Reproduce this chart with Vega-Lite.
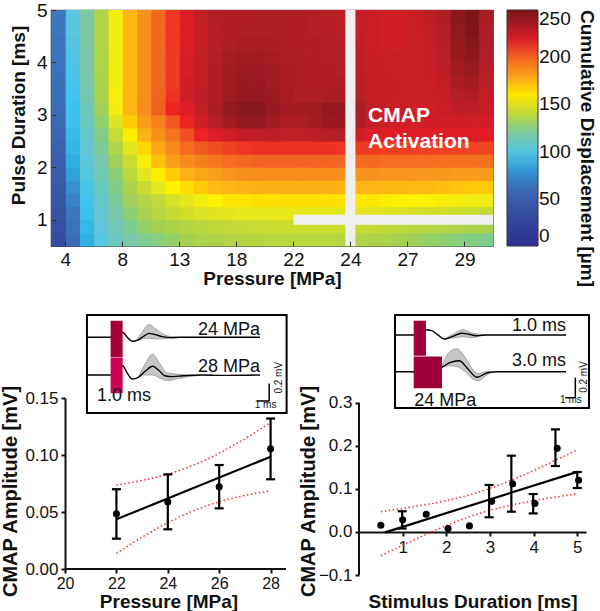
{
"$schema": "https://vega.github.io/schema/vega-lite/v6.json",
"padding": {"left": 0, "top": 0, "right": 2, "bottom": 2},
"config": {
 "font": "Liberation Sans",
 "view": {"stroke": null},
 "axis": {"grid": false, "labelColor": "#111", "titleColor": "#111", "domainColor": "#111", "tickColor": "#111", "titleFontWeight": "bold", "labelFont": "Liberation Sans", "titleFont": "Liberation Sans"},
 "legend": {"labelColor": "#111", "titleColor": "#111"}
},
"datasets": {
 "heat": [
{"p":-0.125,"d":0.625,"v":35},{"p":0.125,"d":0.625,"v":61},{"p":0.375,"d":0.625,"v":88},{"p":0.625,"d":0.625,"v":101},{"p":0.875,"d":0.625,"v":112},{"p":1.125,"d":0.625,"v":117},{"p":1.375,"d":0.625,"v":122},{"p":1.625,"d":0.625,"v":126},{"p":1.875,"d":0.625,"v":129},{"p":2.125,"d":0.625,"v":132},{"p":2.375,"d":0.625,"v":134},{"p":2.625,"d":0.625,"v":135},{"p":2.875,"d":0.625,"v":136},{"p":3.125,"d":0.625,"v":137},{"p":3.375,"d":0.625,"v":137},{"p":3.625,"d":0.625,"v":138},{"p":3.875,"d":0.625,"v":138},{"p":4.125,"d":0.625,"v":138},{"p":4.375,"d":0.625,"v":138},{"p":4.625,"d":0.625,"v":138},{"p":4.875,"d":0.625,"v":137},{"p":5.125,"d":0.625,"v":136},{"p":5.375,"d":0.625,"v":135},{"p":5.625,"d":0.625,"v":134},{"p":5.875,"d":0.625,"v":132},{"p":6.125,"d":0.625,"v":131},{"p":6.375,"d":0.625,"v":129},{"p":6.625,"d":0.625,"v":128},{"p":6.875,"d":0.625,"v":126},{"p":7.125,"d":0.625,"v":125},{"p":7.375,"d":0.625,"v":123},
{"p":-0.125,"d":0.875,"v":39},{"p":0.125,"d":0.875,"v":66},{"p":0.375,"d":0.875,"v":91},{"p":0.625,"d":0.875,"v":104},{"p":0.875,"d":0.875,"v":114},{"p":1.125,"d":0.875,"v":122},{"p":1.375,"d":0.875,"v":129},{"p":1.625,"d":0.875,"v":132},{"p":1.875,"d":0.875,"v":134},{"p":2.125,"d":0.875,"v":136},{"p":2.375,"d":0.875,"v":138},{"p":2.625,"d":0.875,"v":140},{"p":2.875,"d":0.875,"v":141},{"p":3.125,"d":0.875,"v":142},{"p":3.375,"d":0.875,"v":143},{"p":3.625,"d":0.875,"v":144},{"p":3.875,"d":0.875,"v":144},{"p":4.125,"d":0.875,"v":144},{"p":4.375,"d":0.875,"v":144},{"p":4.625,"d":0.875,"v":144},{"p":4.875,"d":0.875,"v":143},{"p":5.125,"d":0.875,"v":142},{"p":5.375,"d":0.875,"v":141},{"p":5.625,"d":0.875,"v":140},{"p":5.875,"d":0.875,"v":139},{"p":6.125,"d":0.875,"v":138},{"p":6.375,"d":0.875,"v":137},{"p":6.625,"d":0.875,"v":136},{"p":6.875,"d":0.875,"v":135},{"p":7.125,"d":0.875,"v":134},{"p":7.375,"d":0.875,"v":133},
{"p":-0.125,"d":1.125,"v":41},{"p":0.125,"d":1.125,"v":70},{"p":0.375,"d":1.125,"v":94},{"p":0.625,"d":1.125,"v":106},{"p":0.875,"d":1.125,"v":117},{"p":1.125,"d":1.125,"v":127},{"p":1.375,"d":1.125,"v":133},{"p":1.625,"d":1.125,"v":137},{"p":1.875,"d":1.125,"v":142},{"p":2.125,"d":1.125,"v":146},{"p":2.375,"d":1.125,"v":148},{"p":2.625,"d":1.125,"v":150},{"p":2.875,"d":1.125,"v":151},{"p":3.125,"d":1.125,"v":152},{"p":3.375,"d":1.125,"v":152},{"p":3.625,"d":1.125,"v":152},{"p":3.875,"d":1.125,"v":152},{"p":4.125,"d":1.125,"v":152},{"p":4.375,"d":1.125,"v":152},{"p":4.625,"d":1.125,"v":152},{"p":4.875,"d":1.125,"v":151},{"p":5.125,"d":1.125,"v":150},{"p":5.375,"d":1.125,"v":150},{"p":5.625,"d":1.125,"v":149},{"p":5.875,"d":1.125,"v":148},{"p":6.125,"d":1.125,"v":147},{"p":6.375,"d":1.125,"v":146},{"p":6.625,"d":1.125,"v":145},{"p":6.875,"d":1.125,"v":144},{"p":7.125,"d":1.125,"v":143},{"p":7.375,"d":1.125,"v":142},
{"p":-0.125,"d":1.375,"v":44},{"p":0.125,"d":1.375,"v":74},{"p":0.375,"d":1.375,"v":96},{"p":0.625,"d":1.375,"v":109},{"p":0.875,"d":1.375,"v":120},{"p":1.125,"d":1.375,"v":131},{"p":1.375,"d":1.375,"v":136},{"p":1.625,"d":1.375,"v":141},{"p":1.875,"d":1.375,"v":147},{"p":2.125,"d":1.375,"v":151},{"p":2.375,"d":1.375,"v":155},{"p":2.625,"d":1.375,"v":158},{"p":2.875,"d":1.375,"v":160},{"p":3.125,"d":1.375,"v":161},{"p":3.375,"d":1.375,"v":162},{"p":3.625,"d":1.375,"v":162},{"p":3.875,"d":1.375,"v":162},{"p":4.125,"d":1.375,"v":162},{"p":4.375,"d":1.375,"v":162},{"p":4.625,"d":1.375,"v":162},{"p":4.875,"d":1.375,"v":161},{"p":5.125,"d":1.375,"v":160},{"p":5.375,"d":1.375,"v":160},{"p":5.625,"d":1.375,"v":159},{"p":5.875,"d":1.375,"v":158},{"p":6.125,"d":1.375,"v":158},{"p":6.375,"d":1.375,"v":157},{"p":6.625,"d":1.375,"v":156},{"p":6.875,"d":1.375,"v":155},{"p":7.125,"d":1.375,"v":154},{"p":7.375,"d":1.375,"v":154},
{"p":-0.125,"d":1.625,"v":47},{"p":0.125,"d":1.625,"v":78},{"p":0.375,"d":1.625,"v":98},{"p":0.625,"d":1.625,"v":111},{"p":0.875,"d":1.625,"v":124},{"p":1.125,"d":1.625,"v":134},{"p":1.375,"d":1.625,"v":143},{"p":1.625,"d":1.625,"v":152},{"p":1.875,"d":1.625,"v":158},{"p":2.125,"d":1.625,"v":162},{"p":2.375,"d":1.625,"v":167},{"p":2.625,"d":1.625,"v":170},{"p":2.875,"d":1.625,"v":172},{"p":3.125,"d":1.625,"v":173},{"p":3.375,"d":1.625,"v":174},{"p":3.625,"d":1.625,"v":174},{"p":3.875,"d":1.625,"v":174},{"p":4.125,"d":1.625,"v":174},{"p":4.375,"d":1.625,"v":174},{"p":4.625,"d":1.625,"v":174},{"p":4.875,"d":1.625,"v":173},{"p":5.125,"d":1.625,"v":172},{"p":5.375,"d":1.625,"v":172},{"p":5.625,"d":1.625,"v":171},{"p":5.875,"d":1.625,"v":171},{"p":6.125,"d":1.625,"v":170},{"p":6.375,"d":1.625,"v":170},{"p":6.625,"d":1.625,"v":169},{"p":6.875,"d":1.625,"v":168},{"p":7.125,"d":1.625,"v":167},{"p":7.375,"d":1.625,"v":167},
{"p":-0.125,"d":1.875,"v":50},{"p":0.125,"d":1.875,"v":83},{"p":0.375,"d":1.875,"v":101},{"p":0.625,"d":1.875,"v":114},{"p":0.875,"d":1.875,"v":127},{"p":1.125,"d":1.875,"v":139},{"p":1.375,"d":1.875,"v":150},{"p":1.625,"d":1.875,"v":159},{"p":1.875,"d":1.875,"v":166},{"p":2.125,"d":1.875,"v":173},{"p":2.375,"d":1.875,"v":178},{"p":2.625,"d":1.875,"v":181},{"p":2.875,"d":1.875,"v":184},{"p":3.125,"d":1.875,"v":186},{"p":3.375,"d":1.875,"v":187},{"p":3.625,"d":1.875,"v":187},{"p":3.875,"d":1.875,"v":187},{"p":4.125,"d":1.875,"v":187},{"p":4.375,"d":1.875,"v":187},{"p":4.625,"d":1.875,"v":187},{"p":4.875,"d":1.875,"v":186},{"p":5.125,"d":1.875,"v":185},{"p":5.375,"d":1.875,"v":185},{"p":5.625,"d":1.875,"v":184},{"p":5.875,"d":1.875,"v":184},{"p":6.125,"d":1.875,"v":184},{"p":6.375,"d":1.875,"v":183},{"p":6.625,"d":1.875,"v":183},{"p":6.875,"d":1.875,"v":182},{"p":7.125,"d":1.875,"v":182},{"p":7.375,"d":1.875,"v":182},
{"p":-0.125,"d":2.125,"v":52},{"p":0.125,"d":2.125,"v":87},{"p":0.375,"d":2.125,"v":103},{"p":0.625,"d":2.125,"v":117},{"p":0.875,"d":2.125,"v":131},{"p":1.125,"d":2.125,"v":144},{"p":1.375,"d":2.125,"v":156},{"p":1.625,"d":2.125,"v":169},{"p":1.875,"d":2.125,"v":181},{"p":2.125,"d":2.125,"v":188},{"p":2.375,"d":2.125,"v":192},{"p":2.625,"d":2.125,"v":195},{"p":2.875,"d":2.125,"v":197},{"p":3.125,"d":2.125,"v":199},{"p":3.375,"d":2.125,"v":200},{"p":3.625,"d":2.125,"v":200},{"p":3.875,"d":2.125,"v":200},{"p":4.125,"d":2.125,"v":200},{"p":4.375,"d":2.125,"v":200},{"p":4.625,"d":2.125,"v":200},{"p":4.875,"d":2.125,"v":199},{"p":5.125,"d":2.125,"v":198},{"p":5.375,"d":2.125,"v":198},{"p":5.625,"d":2.125,"v":197},{"p":5.875,"d":2.125,"v":197},{"p":6.125,"d":2.125,"v":197},{"p":6.375,"d":2.125,"v":197},{"p":6.625,"d":2.125,"v":196},{"p":6.875,"d":2.125,"v":196},{"p":7.125,"d":2.125,"v":196},{"p":7.375,"d":2.125,"v":196},
{"p":-0.125,"d":2.375,"v":54},{"p":0.125,"d":2.375,"v":90},{"p":0.375,"d":2.375,"v":105},{"p":0.625,"d":2.375,"v":121},{"p":0.875,"d":2.375,"v":136},{"p":1.125,"d":2.375,"v":151},{"p":1.375,"d":2.375,"v":164},{"p":1.625,"d":2.375,"v":177},{"p":1.875,"d":2.375,"v":188},{"p":2.125,"d":2.375,"v":197},{"p":2.375,"d":2.375,"v":202},{"p":2.625,"d":2.375,"v":206},{"p":2.875,"d":2.375,"v":209},{"p":3.125,"d":2.375,"v":211},{"p":3.375,"d":2.375,"v":212},{"p":3.625,"d":2.375,"v":212},{"p":3.875,"d":2.375,"v":212},{"p":4.125,"d":2.375,"v":212},{"p":4.375,"d":2.375,"v":212},{"p":4.625,"d":2.375,"v":212},{"p":4.875,"d":2.375,"v":211},{"p":5.125,"d":2.375,"v":210},{"p":5.375,"d":2.375,"v":210},{"p":5.625,"d":2.375,"v":209},{"p":5.875,"d":2.375,"v":209},{"p":6.125,"d":2.375,"v":209},{"p":6.375,"d":2.375,"v":209},{"p":6.625,"d":2.375,"v":209},{"p":6.875,"d":2.375,"v":208},{"p":7.125,"d":2.375,"v":208},{"p":7.375,"d":2.375,"v":208},
{"p":-0.125,"d":2.625,"v":57},{"p":0.125,"d":2.625,"v":92},{"p":0.375,"d":2.625,"v":108},{"p":0.625,"d":2.625,"v":124},{"p":0.875,"d":2.625,"v":142},{"p":1.125,"d":2.625,"v":159},{"p":1.375,"d":2.625,"v":173},{"p":1.625,"d":2.625,"v":186},{"p":1.875,"d":2.625,"v":195},{"p":2.125,"d":2.625,"v":205},{"p":2.375,"d":2.625,"v":214},{"p":2.625,"d":2.625,"v":219},{"p":2.875,"d":2.625,"v":222},{"p":3.125,"d":2.625,"v":225},{"p":3.375,"d":2.625,"v":226},{"p":3.625,"d":2.625,"v":226},{"p":3.875,"d":2.625,"v":225},{"p":4.125,"d":2.625,"v":225},{"p":4.375,"d":2.625,"v":226},{"p":4.625,"d":2.625,"v":228},{"p":4.875,"d":2.625,"v":228},{"p":5.125,"d":2.625,"v":222},{"p":5.375,"d":2.625,"v":219},{"p":5.625,"d":2.625,"v":218},{"p":5.875,"d":2.625,"v":218},{"p":6.125,"d":2.625,"v":218},{"p":6.375,"d":2.625,"v":218},{"p":6.625,"d":2.625,"v":218},{"p":6.875,"d":2.625,"v":218},{"p":7.125,"d":2.625,"v":218},{"p":7.375,"d":2.625,"v":217},
{"p":-0.125,"d":2.875,"v":60},{"p":0.125,"d":2.875,"v":94},{"p":0.375,"d":2.875,"v":112},{"p":0.625,"d":2.875,"v":128},{"p":0.875,"d":2.875,"v":149},{"p":1.125,"d":2.875,"v":166},{"p":1.375,"d":2.875,"v":181},{"p":1.625,"d":2.875,"v":192},{"p":1.875,"d":2.875,"v":203},{"p":2.125,"d":2.875,"v":214},{"p":2.375,"d":2.875,"v":222},{"p":2.625,"d":2.875,"v":228},{"p":2.875,"d":2.875,"v":234},{"p":3.125,"d":2.875,"v":240},{"p":3.375,"d":2.875,"v":240},{"p":3.625,"d":2.875,"v":235},{"p":3.875,"d":2.875,"v":231},{"p":4.125,"d":2.875,"v":231},{"p":4.375,"d":2.875,"v":234},{"p":4.625,"d":2.875,"v":238},{"p":4.875,"d":2.875,"v":238},{"p":5.125,"d":2.875,"v":230},{"p":5.375,"d":2.875,"v":224},{"p":5.625,"d":2.875,"v":222},{"p":5.875,"d":2.875,"v":221},{"p":6.125,"d":2.875,"v":221},{"p":6.375,"d":2.875,"v":221},{"p":6.625,"d":2.875,"v":222},{"p":6.875,"d":2.875,"v":222},{"p":7.125,"d":2.875,"v":222},{"p":7.375,"d":2.875,"v":221},
{"p":-0.125,"d":3.125,"v":62},{"p":0.125,"d":3.125,"v":94},{"p":0.375,"d":3.125,"v":113},{"p":0.625,"d":3.125,"v":131},{"p":0.875,"d":3.125,"v":155},{"p":1.125,"d":3.125,"v":172},{"p":1.375,"d":3.125,"v":187},{"p":1.625,"d":3.125,"v":201},{"p":1.875,"d":3.125,"v":214},{"p":2.125,"d":3.125,"v":218},{"p":2.375,"d":3.125,"v":225},{"p":2.625,"d":3.125,"v":232},{"p":2.875,"d":3.125,"v":240},{"p":3.125,"d":3.125,"v":245},{"p":3.375,"d":3.125,"v":244},{"p":3.625,"d":3.125,"v":238},{"p":3.875,"d":3.125,"v":234},{"p":4.125,"d":3.125,"v":234},{"p":4.375,"d":3.125,"v":236},{"p":4.625,"d":3.125,"v":240},{"p":4.875,"d":3.125,"v":240},{"p":5.125,"d":3.125,"v":232},{"p":5.375,"d":3.125,"v":226},{"p":5.625,"d":3.125,"v":224},{"p":5.875,"d":3.125,"v":223},{"p":6.125,"d":3.125,"v":222},{"p":6.375,"d":3.125,"v":222},{"p":6.625,"d":3.125,"v":223},{"p":6.875,"d":3.125,"v":226},{"p":7.125,"d":3.125,"v":226},{"p":7.375,"d":3.125,"v":224},
{"p":-0.125,"d":3.375,"v":64},{"p":0.125,"d":3.375,"v":96},{"p":0.375,"d":3.375,"v":115},{"p":0.625,"d":3.375,"v":133},{"p":0.875,"d":3.375,"v":156},{"p":1.125,"d":3.375,"v":172},{"p":1.375,"d":3.375,"v":186},{"p":1.625,"d":3.375,"v":200},{"p":1.875,"d":3.375,"v":212},{"p":2.125,"d":3.375,"v":222},{"p":2.375,"d":3.375,"v":226},{"p":2.625,"d":3.375,"v":230},{"p":2.875,"d":3.375,"v":236},{"p":3.125,"d":3.375,"v":240},{"p":3.375,"d":3.375,"v":240},{"p":3.625,"d":3.375,"v":237},{"p":3.875,"d":3.375,"v":233},{"p":4.125,"d":3.375,"v":231},{"p":4.375,"d":3.375,"v":231},{"p":4.625,"d":3.375,"v":232},{"p":4.875,"d":3.375,"v":232},{"p":5.125,"d":3.375,"v":228},{"p":5.375,"d":3.375,"v":225},{"p":5.625,"d":3.375,"v":224},{"p":5.875,"d":3.375,"v":223},{"p":6.125,"d":3.375,"v":223},{"p":6.375,"d":3.375,"v":223},{"p":6.625,"d":3.375,"v":224},{"p":6.875,"d":3.375,"v":229},{"p":7.125,"d":3.375,"v":230},{"p":7.375,"d":3.375,"v":225},
{"p":-0.125,"d":3.625,"v":65},{"p":0.125,"d":3.625,"v":97},{"p":0.375,"d":3.625,"v":116},{"p":0.625,"d":3.625,"v":134},{"p":0.875,"d":3.625,"v":155},{"p":1.125,"d":3.625,"v":171},{"p":1.375,"d":3.625,"v":186},{"p":1.625,"d":3.625,"v":199},{"p":1.875,"d":3.625,"v":210},{"p":2.125,"d":3.625,"v":221},{"p":2.375,"d":3.625,"v":225},{"p":2.625,"d":3.625,"v":230},{"p":2.875,"d":3.625,"v":235},{"p":3.125,"d":3.625,"v":238},{"p":3.375,"d":3.625,"v":238},{"p":3.625,"d":3.625,"v":235},{"p":3.875,"d":3.625,"v":232},{"p":4.125,"d":3.625,"v":231},{"p":4.375,"d":3.625,"v":230},{"p":4.625,"d":3.625,"v":230},{"p":4.875,"d":3.625,"v":230},{"p":5.125,"d":3.625,"v":227},{"p":5.375,"d":3.625,"v":225},{"p":5.625,"d":3.625,"v":224},{"p":5.875,"d":3.625,"v":223},{"p":6.125,"d":3.625,"v":223},{"p":6.375,"d":3.625,"v":223},{"p":6.625,"d":3.625,"v":225},{"p":6.875,"d":3.625,"v":232},{"p":7.125,"d":3.625,"v":234},{"p":7.375,"d":3.625,"v":227},
{"p":-0.125,"d":3.875,"v":66},{"p":0.125,"d":3.875,"v":98},{"p":0.375,"d":3.875,"v":117},{"p":0.625,"d":3.875,"v":135},{"p":0.875,"d":3.875,"v":155},{"p":1.125,"d":3.875,"v":171},{"p":1.375,"d":3.875,"v":186},{"p":1.625,"d":3.875,"v":199},{"p":1.875,"d":3.875,"v":210},{"p":2.125,"d":3.875,"v":220},{"p":2.375,"d":3.875,"v":225},{"p":2.625,"d":3.875,"v":230},{"p":2.875,"d":3.875,"v":235},{"p":3.125,"d":3.875,"v":237},{"p":3.375,"d":3.875,"v":237},{"p":3.625,"d":3.875,"v":234},{"p":3.875,"d":3.875,"v":232},{"p":4.125,"d":3.875,"v":231},{"p":4.375,"d":3.875,"v":230},{"p":4.625,"d":3.875,"v":230},{"p":4.875,"d":3.875,"v":229},{"p":5.125,"d":3.875,"v":226},{"p":5.375,"d":3.875,"v":224},{"p":5.625,"d":3.875,"v":223},{"p":5.875,"d":3.875,"v":223},{"p":6.125,"d":3.875,"v":223},{"p":6.375,"d":3.875,"v":224},{"p":6.625,"d":3.875,"v":226},{"p":6.875,"d":3.875,"v":235},{"p":7.125,"d":3.875,"v":238},{"p":7.375,"d":3.875,"v":228},
{"p":-0.125,"d":4.125,"v":67},{"p":0.125,"d":4.125,"v":99},{"p":0.375,"d":4.125,"v":117},{"p":0.625,"d":4.125,"v":135},{"p":0.875,"d":4.125,"v":155},{"p":1.125,"d":4.125,"v":171},{"p":1.375,"d":4.125,"v":186},{"p":1.625,"d":4.125,"v":199},{"p":1.875,"d":4.125,"v":210},{"p":2.125,"d":4.125,"v":220},{"p":2.375,"d":4.125,"v":225},{"p":2.625,"d":4.125,"v":229},{"p":2.875,"d":4.125,"v":233},{"p":3.125,"d":4.125,"v":235},{"p":3.375,"d":4.125,"v":235},{"p":3.625,"d":4.125,"v":233},{"p":3.875,"d":4.125,"v":231},{"p":4.125,"d":4.125,"v":231},{"p":4.375,"d":4.125,"v":230},{"p":4.625,"d":4.125,"v":229},{"p":4.875,"d":4.125,"v":228},{"p":5.125,"d":4.125,"v":226},{"p":5.375,"d":4.125,"v":224},{"p":5.625,"d":4.125,"v":223},{"p":5.875,"d":4.125,"v":223},{"p":6.125,"d":4.125,"v":223},{"p":6.375,"d":4.125,"v":224},{"p":6.625,"d":4.125,"v":227},{"p":6.875,"d":4.125,"v":238},{"p":7.125,"d":4.125,"v":242},{"p":7.375,"d":4.125,"v":229},
{"p":-0.125,"d":4.375,"v":68},{"p":0.125,"d":4.375,"v":100},{"p":0.375,"d":4.375,"v":118},{"p":0.625,"d":4.375,"v":136},{"p":0.875,"d":4.375,"v":155},{"p":1.125,"d":4.375,"v":171},{"p":1.375,"d":4.375,"v":186},{"p":1.625,"d":4.375,"v":199},{"p":1.875,"d":4.375,"v":211},{"p":2.125,"d":4.375,"v":219},{"p":2.375,"d":4.375,"v":224},{"p":2.625,"d":4.375,"v":228},{"p":2.875,"d":4.375,"v":231},{"p":3.125,"d":4.375,"v":232},{"p":3.375,"d":4.375,"v":233},{"p":3.625,"d":4.375,"v":232},{"p":3.875,"d":4.375,"v":231},{"p":4.125,"d":4.375,"v":230},{"p":4.375,"d":4.375,"v":230},{"p":4.625,"d":4.375,"v":229},{"p":4.875,"d":4.375,"v":228},{"p":5.125,"d":4.375,"v":225},{"p":5.375,"d":4.375,"v":223},{"p":5.625,"d":4.375,"v":222},{"p":5.875,"d":4.375,"v":222},{"p":6.125,"d":4.375,"v":223},{"p":6.375,"d":4.375,"v":224},{"p":6.625,"d":4.375,"v":228},{"p":6.875,"d":4.375,"v":240},{"p":7.125,"d":4.375,"v":245},{"p":7.375,"d":4.375,"v":230},
{"p":-0.125,"d":4.625,"v":69},{"p":0.125,"d":4.625,"v":101},{"p":0.375,"d":4.625,"v":118},{"p":0.625,"d":4.625,"v":136},{"p":0.875,"d":4.625,"v":155},{"p":1.125,"d":4.625,"v":171},{"p":1.375,"d":4.625,"v":186},{"p":1.625,"d":4.625,"v":199},{"p":1.875,"d":4.625,"v":211},{"p":2.125,"d":4.625,"v":219},{"p":2.375,"d":4.625,"v":224},{"p":2.625,"d":4.625,"v":228},{"p":2.875,"d":4.625,"v":230},{"p":3.125,"d":4.625,"v":231},{"p":3.375,"d":4.625,"v":231},{"p":3.625,"d":4.625,"v":231},{"p":3.875,"d":4.625,"v":231},{"p":4.125,"d":4.625,"v":230},{"p":4.375,"d":4.625,"v":229},{"p":4.625,"d":4.625,"v":228},{"p":4.875,"d":4.625,"v":227},{"p":5.125,"d":4.625,"v":224},{"p":5.375,"d":4.625,"v":223},{"p":5.625,"d":4.625,"v":222},{"p":5.875,"d":4.625,"v":222},{"p":6.125,"d":4.625,"v":223},{"p":6.375,"d":4.625,"v":225},{"p":6.625,"d":4.625,"v":229},{"p":6.875,"d":4.625,"v":242},{"p":7.125,"d":4.625,"v":247},{"p":7.375,"d":4.625,"v":231},
{"p":-0.125,"d":4.875,"v":69},{"p":0.125,"d":4.875,"v":101},{"p":0.375,"d":4.875,"v":118},{"p":0.625,"d":4.875,"v":136},{"p":0.875,"d":4.875,"v":155},{"p":1.125,"d":4.875,"v":171},{"p":1.375,"d":4.875,"v":186},{"p":1.625,"d":4.875,"v":199},{"p":1.875,"d":4.875,"v":211},{"p":2.125,"d":4.875,"v":219},{"p":2.375,"d":4.875,"v":225},{"p":2.625,"d":4.875,"v":229},{"p":2.875,"d":4.875,"v":230},{"p":3.125,"d":4.875,"v":230},{"p":3.375,"d":4.875,"v":231},{"p":3.625,"d":4.875,"v":231},{"p":3.875,"d":4.875,"v":231},{"p":4.125,"d":4.875,"v":230},{"p":4.375,"d":4.875,"v":229},{"p":4.625,"d":4.875,"v":228},{"p":4.875,"d":4.875,"v":226},{"p":5.125,"d":4.875,"v":224},{"p":5.375,"d":4.875,"v":223},{"p":5.625,"d":4.875,"v":222},{"p":5.875,"d":4.875,"v":222},{"p":6.125,"d":4.875,"v":223},{"p":6.375,"d":4.875,"v":226},{"p":6.625,"d":4.875,"v":230},{"p":6.875,"d":4.875,"v":243},{"p":7.125,"d":4.875,"v":248},{"p":7.375,"d":4.875,"v":232}
 ],
 "ciL": [
  {"x":22,"y":0.0736,"side":"upper"},{"x":23,"y":0.0777,"side":"upper"},{"x":24,"y":0.0832,"side":"upper"},{"x":25,"y":0.0911,"side":"upper"},{"x":26,"y":0.1015,"side":"upper"},{"x":27,"y":0.1143,"side":"upper"},{"x":28,"y":0.1285,"side":"upper"},
  {"x":22,"y":0.0136,"side":"lower"},{"x":23,"y":0.0279,"side":"lower"},{"x":24,"y":0.0406,"side":"lower"},{"x":25,"y":0.0511,"side":"lower"},{"x":26,"y":0.0589,"side":"lower"},{"x":27,"y":0.0645,"side":"lower"},{"x":28,"y":0.0685,"side":"lower"}
 ],
 "fitL": [{"x":22,"y":0.0436},{"x":28,"y":0.0985}],
 "ptsL": [{"x":22,"m":0.0485,"lo":0.0266,"hi":0.070},{"x":24,"m":0.0588,"lo":0.0348,"hi":0.083},{"x":26,"m":0.0722,"lo":0.0532,"hi":0.0912},{"x":28,"m":0.1055,"lo":0.0787,"hi":0.132}],
 "ciR": [
  {"x":0.5,"y":0.0469,"side":"upper"},{"x":1,"y":0.0545,"side":"upper"},{"x":1.5,"y":0.0629,"side":"upper"},{"x":2,"y":0.0727,"side":"upper"},{"x":2.5,"y":0.0852,"side":"upper"},{"x":3,"y":0.1011,"side":"upper"},{"x":3.5,"y":0.1206,"side":"upper"},{"x":4,"y":0.1426,"side":"upper"},{"x":4.5,"y":0.1662,"side":"upper"},{"x":5,"y":0.1904,"side":"upper"},
  {"x":0.5,"y":-0.0551,"side":"lower"},{"x":1,"y":-0.0309,"side":"lower"},{"x":1.5,"y":-0.0073,"side":"lower"},{"x":2,"y":0.0147,"side":"lower"},{"x":2.5,"y":0.0342,"side":"lower"},{"x":3,"y":0.0501,"side":"lower"},{"x":3.5,"y":0.0626,"side":"lower"},{"x":4,"y":0.0724,"side":"lower"},{"x":4.5,"y":0.0808,"side":"lower"},{"x":5,"y":0.0884,"side":"lower"}
 ],
 "fitR": [{"x":0.6,"y":-0.001},{"x":5.0,"y":0.1394}],
 "ptsR": [{"x":0.5,"m":0.0155},{"x":1.0,"m":0.028},{"x":1.54,"m":0.041},{"x":2.04,"m":0.008},{"x":2.53,"m":0.014},{"x":3.04,"m":0.071},{"x":3.52,"m":0.112},{"x":4.03,"m":0.066},{"x":4.54,"m":0.194},{"x":5.03,"m":0.12}],
 "errR": [{"x":0.99,"lo":0.008,"hi":0.048},{"x":2.98,"lo":0.034,"hi":0.109},{"x":3.49,"lo":0.047,"hi":0.177},{"x":3.99,"lo":0.043,"hi":0.088},{"x":4.5,"lo":0.153,"hi":0.238},{"x":5.0,"lo":0.102,"hi":0.139}],
 "bandL": [
  {"k":"a","t":2.2,"lo":0.435,"hi":0.44},{"k":"a","t":2.6,"lo":0.45,"hi":0.53},{"k":"a","t":3.2,"lo":0.46,"hi":0.63},{"k":"a","t":3.8,"lo":0.45,"hi":0.57},{"k":"a","t":4.4,"lo":0.455,"hi":0.51},{"k":"a","t":5.0,"lo":0.46,"hi":0.48},{"k":"a","t":5.6,"lo":0.468,"hi":0.474},
  {"k":"b","t":2.3,"lo":-0.03,"hi":-0.03},{"k":"b","t":2.8,"lo":0.0,"hi":0.12},{"k":"b","t":3.5,"lo":0.0,"hi":0.26},{"k":"b","t":4.1,"lo":-0.04,"hi":0.14},{"k":"b","t":4.7,"lo":-0.07,"hi":0.03},{"k":"b","t":5.5,"lo":-0.05,"hi":0.01},{"k":"b","t":6.5,"lo":-0.02,"hi":0.0},{"k":"b","t":7.5,"lo":-0.005,"hi":-0.005}
 ],
 "trL": [
  {"k":"a","t":-1.97,"y":0.471},{"k":"a","t":0,"y":0.471},{"k":"a","t":1.0,"y":0.534},{"k":"a","t":1.4,"y":0.47},{"k":"a","t":1.8,"y":0.421},{"k":"a","t":2.3,"y":0.44},{"k":"a","t":2.8,"y":0.49},{"k":"a","t":3.2,"y":0.52},{"k":"a","t":3.7,"y":0.505},{"k":"a","t":4.3,"y":0.48},{"k":"a","t":5.0,"y":0.467},{"k":"a","t":5.8,"y":0.471},{"k":"a","t":12.44,"y":0.471},
  {"k":"b","t":-1.97,"y":0},{"k":"b","t":0,"y":0},{"k":"b","t":1.0,"y":0.116},{"k":"b","t":1.4,"y":0.02},{"k":"b","t":1.8,"y":-0.05},{"k":"b","t":2.3,"y":-0.03},{"k":"b","t":2.9,"y":0.05},{"k":"b","t":3.5,"y":0.109},{"k":"b","t":4.0,"y":0.06},{"k":"b","t":4.5,"y":-0.009},{"k":"b","t":5.2,"y":-0.02},{"k":"b","t":6.0,"y":-0.01},{"k":"b","t":7.5,"y":0.0},{"k":"b","t":9.5,"y":-0.005},{"k":"b","t":12.44,"y":0.0}
 ],
 "bandR": [
  {"k":"a","t":2.8,"lo":0.335,"hi":0.345},{"k":"a","t":3.5,"lo":0.34,"hi":0.39},{"k":"a","t":4.1,"lo":0.35,"hi":0.42},{"k":"a","t":4.8,"lo":0.34,"hi":0.39},{"k":"a","t":5.5,"lo":0.355,"hi":0.375},{"k":"a","t":6.0,"lo":0.365,"hi":0.369},
  {"k":"b","t":2.36,"lo":0.04,"hi":0.06},{"k":"b","t":3.0,"lo":0.06,"hi":0.2},{"k":"b","t":3.6,"lo":0.05,"hi":0.23},{"k":"b","t":4.3,"lo":0.0,"hi":0.14},{"k":"b","t":5.0,"lo":-0.08,"hi":0.01},{"k":"b","t":5.4,"lo":-0.09,"hi":-0.02},{"k":"b","t":6.0,"lo":-0.04,"hi":0.0},{"k":"b","t":6.5,"lo":-0.005,"hi":-0.005}
 ],
 "trR": [
  {"k":"a","t":-1.56,"y":0.367},{"k":"a","t":0,"y":0.367},{"k":"a","t":1.02,"y":0.42},{"k":"a","t":1.5,"y":0.41},{"k":"a","t":2.0,"y":0.37},{"k":"a","t":2.55,"y":0.327},{"k":"a","t":3.2,"y":0.35},{"k":"a","t":4.0,"y":0.385},{"k":"a","t":4.6,"y":0.375},{"k":"a","t":5.2,"y":0.36},{"k":"a","t":6.0,"y":0.367},{"k":"a","t":12.7,"y":0.367},
  {"k":"b","t":-1.56,"y":0},{"k":"b","t":0,"y":0},{"k":"b","t":2.36,"y":0.047},{"k":"b","t":3.0,"y":0.09},{"k":"b","t":3.8,"y":0.11},{"k":"b","t":4.5,"y":0.03},{"k":"b","t":5.27,"y":-0.056},{"k":"b","t":5.8,"y":-0.03},{"k":"b","t":6.3,"y":-0.005},{"k":"b","t":7.0,"y":0},{"k":"b","t":12.7,"y":0}
 ]
},
"spacing": 25,
"resolve": {"scale": {"color": "independent"}, "legend": {"color": "independent"}},
"vconcat": [
 {
  "width": 442, "height": 236,
  "view": {"stroke": "#444", "strokeWidth": 1.2},
  "layer": [
   {"data": {"name": "heat"},
    "mark": {"type": "rect", "xOffset": 0.7, "x2Offset": 0.7, "yOffset": -0.7, "y2Offset": -0.7, "clip": true},
    "encoding": {
     "x": {"field": "p", "type": "quantitative", "bin": {"step": 0.25, "extent": [-0.25, 7.5]}, "title": "Pressure [MPa]",
           "scale": {"domain": [-0.25, 7.5], "nice": false, "zero": false},
           "axis": {"values": [0,1,2,3,4,5,6,7], "labelExpr": "['4','8','13','18','22','24','27','29'][datum.value]", "labelFontSize": 19, "titleFontSize": 19, "domain": false, "tickSize": -5, "tickColor": "#333", "labelPadding": 9, "titlePadding": 0, "labelFlush": false}},
     "y": {"field": "d", "type": "quantitative", "bin": {"step": 0.25, "extent": [0.5, 5]}, "title": "Pulse Duration [ms]",
           "scale": {"domain": [0.5, 5], "nice": false, "zero": false},
           "axis": {"values": [1,2,3,4,5], "format": "d", "labelFontSize": 19, "titleFontSize": 19, "domain": false, "tickSize": -5, "tickColor": "#333", "labelPadding": 9, "titlePadding": 8, "titleY": 105, "labelFlush": false}},
     "color": {"field": "v", "type": "quantitative",
       "scale": {"domain": [0, 25, 50, 70, 85, 95, 105, 118, 132, 145, 158, 170, 185, 200, 215, 228, 240, 250],
                 "range": ["#2e3092", "#33449b", "#3a5ba9", "#3d78bf", "#2ea7e0", "#3fc4ee", "#66c6d6", "#7ec7a5", "#a7cf4f", "#cfdd2a", "#fff200", "#fdba13", "#f7941d", "#f26223", "#ed1c24", "#b51f26", "#941a20", "#7a1616"]},
       "legend": {"type": "gradient", "orient": "right", "direction": "vertical", "offset": 14, "gradientLength": 236, "gradientThickness": 31, "values": [0, 50, 100, 150, 200, 250], "labelFontSize": 19, "labelOffset": 1, "gradientStrokeColor": "#333", "gradientStrokeWidth": 1, "title": "Cumulative Displacement [µm]", "titleOrient": "right", "titleAnchor": "end", "titleFontSize": 19, "titleFontWeight": "bold", "titleLimit": 400, "titlePadding": 6}}
    }},
   {"data": {"name": "heat"},
    "mark": {"type": "rect"},
    "encoding": {
     "x": {"field": "p", "type": "quantitative", "bin": {"step": 0.25, "extent": [-0.25, 7.5]}, "title": "Pressure [MPa]"},
     "y": {"field": "d", "type": "quantitative", "bin": {"step": 0.25, "extent": [0.5, 5]}, "title": "Pulse Duration [ms]"},
     "color": {"field": "v", "type": "quantitative"}
    }},
   {"data": {"values": [{"p": 5, "d0": 0.5, "d1": 5}]},
    "mark": {"type": "rule", "color": "#efefef", "strokeWidth": 10, "strokeCap": "butt"},
    "encoding": {"x": {"field": "p", "type": "quantitative", "title": "Pressure [MPa]"}, "y": {"field": "d0", "type": "quantitative", "title": "Pulse Duration [ms]"}, "y2": {"field": "d1"}}},
   {"data": {"values": [{"p0": 4, "p1": 7.5, "d": 1}]},
    "mark": {"type": "rule", "color": "#efefef", "strokeWidth": 10, "strokeCap": "butt"},
    "encoding": {"x": {"field": "p0", "type": "quantitative", "title": "Pressure [MPa]"}, "x2": {"field": "p1"}, "y": {"field": "d", "type": "quantitative", "title": "Pulse Duration [ms]"}}},
   {"data": {"values": [{"p": 5.31, "d": 2.98, "t": "CMAP"}, {"p": 5.31, "d": 2.48, "t": "Activation"}]},
    "mark": {"type": "text", "align": "left", "baseline": "middle", "fontSize": 21, "fontWeight": "bold", "color": "#ffffff"},
    "encoding": {"x": {"field": "p", "type": "quantitative", "title": "Pressure [MPa]"}, "y": {"field": "d", "type": "quantitative", "title": "Pulse Duration [ms]"}, "text": {"field": "t"}}}
  ]
 },
 {
  "spacing": 10,
  "hconcat": [
   {
    "width": 235, "height": 171,
    "resolve": {"scale": {"x": "independent", "y": "independent"}},
    "layer": [
     {"layer": [
       {"data": {"values": [{"x0": 20, "x1": 28.6, "y": 0}]}, "mark": {"type": "rule", "color": "#111111", "strokeWidth": 2},
        "encoding": {
          "x": {"field": "x0", "type": "quantitative", "title": "Pressure [MPa]", "scale": {"domain": [19.454, 28.6], "nice": false, "zero": false},
                "axis": {"values": [20, 22, 24, 26, 28], "domain": false, "labelFontSize": 16, "titleFontSize": 19, "tickSize": 4, "tickWidth": 2, "labelPadding": 2, "titlePadding": 1}},
          "x2": {"field": "x1"},
          "y": {"field": "y", "type": "quantitative", "title": "CMAP Amplitude [mV]", "scale": {"domain": [0, 0.15], "nice": false},
                "axis": {"values": [0, 0.05, 0.1, 0.15], "format": ".2f", "offset": -14, "labelFontSize": 17, "titleFontSize": 20, "tickSize": 4, "tickWidth": 2, "domainWidth": 2, "labelPadding": 3, "titlePadding": 4, "titleY": 93}}}},
       {"data": {"name": "ciL"}, "mark": {"type": "line", "color": "#ff2b2b", "strokeWidth": 1.5, "strokeDash": [1.5, 2.5], "interpolate": "monotone"},
        "encoding": {"x": {"field": "x", "type": "quantitative", "title": "Pressure [MPa]"}, "y": {"field": "y", "type": "quantitative", "title": "CMAP Amplitude [mV]"}, "detail": {"field": "side"}}},
       {"data": {"name": "fitL"}, "mark": {"type": "line", "color": "#000000", "strokeWidth": 2.2},
        "encoding": {"x": {"field": "x", "type": "quantitative", "title": "Pressure [MPa]"}, "y": {"field": "y", "type": "quantitative", "title": "CMAP Amplitude [mV]"}}},
       {"data": {"name": "ptsL"}, "mark": {"type": "rule", "color": "#000000", "strokeWidth": 2.2},
        "encoding": {"x": {"field": "x", "type": "quantitative", "title": "Pressure [MPa]"}, "y": {"field": "lo", "type": "quantitative", "title": "CMAP Amplitude [mV]"}, "y2": {"field": "hi"}}},
       {"data": {"name": "ptsL"}, "mark": {"type": "tick", "orient": "horizontal", "size": 9, "thickness": 2.2, "color": "#000000", "opacity": 1},
        "encoding": {"x": {"field": "x", "type": "quantitative", "title": "Pressure [MPa]"}, "y": {"field": "lo", "type": "quantitative", "title": "CMAP Amplitude [mV]"}}},
       {"data": {"name": "ptsL"}, "mark": {"type": "tick", "orient": "horizontal", "size": 9, "thickness": 2.2, "color": "#000000", "opacity": 1},
        "encoding": {"x": {"field": "x", "type": "quantitative", "title": "Pressure [MPa]"}, "y": {"field": "hi", "type": "quantitative", "title": "CMAP Amplitude [mV]"}}},
       {"data": {"name": "ptsL"}, "mark": {"type": "circle", "size": 50, "color": "#000000", "opacity": 1},
        "encoding": {"x": {"field": "x", "type": "quantitative", "title": "Pressure [MPa]"}, "y": {"field": "m", "type": "quantitative", "title": "CMAP Amplitude [mV]"}}}
     ]},
     {"layer": [
       {"data": {"values": [{"t0": -1.97, "t1": 14.65, "y0": -0.475, "y1": 0.75}]},
        "mark": {"type": "rect", "fill": "#ffffff", "stroke": "#000000", "strokeWidth": 2},
        "encoding": {"x": {"field": "t0", "type": "quantitative", "scale": {"domain": [-4.963, 14.6], "nice": false, "zero": false}, "axis": null}, "x2": {"field": "t1"},
                     "y": {"field": "y0", "type": "quantitative", "scale": {"domain": [-2.425, -0.2875], "nice": false, "zero": false}, "axis": null}, "y2": {"field": "y1"}}},
       {"data": {"name": "bandL"}, "mark": {"type": "area", "color": "#c6c6c6", "stroke": "#8c8c8c", "strokeWidth": 0.7, "interpolate": "monotone", "opacity": 1},
        "encoding": {"x": {"field": "t", "type": "quantitative", "axis": null}, "y": {"field": "lo", "type": "quantitative", "axis": null}, "y2": {"field": "hi"}, "detail": {"field": "k"}}},
       {"data": {"name": "trL"}, "mark": {"type": "line", "color": "#000000", "strokeWidth": 1.4, "interpolate": "monotone"},
        "encoding": {"x": {"field": "t", "type": "quantitative", "axis": null}, "y": {"field": "y", "type": "quantitative", "axis": null}, "detail": {"field": "k"}}},
       {"data": {"values": [{"t0": 0, "t1": 1.0, "y0": 0.224, "y1": 0.679}]},
        "mark": {"type": "rect", "color": "#a3003a"},
        "encoding": {"x": {"field": "t0", "type": "quantitative", "axis": null}, "x2": {"field": "t1"}, "y": {"field": "y0", "type": "quantitative", "axis": null}, "y2": {"field": "y1"}}},
       {"data": {"values": [{"t0": 0, "t1": 1.0, "y0": -0.229, "y1": 0.218}]},
        "mark": {"type": "rect", "color": "#cc0055"},
        "encoding": {"x": {"field": "t0", "type": "quantitative", "axis": null}, "x2": {"field": "t1"}, "y": {"field": "y0", "type": "quantitative", "axis": null}, "y2": {"field": "y1"}}},
       {"data": {"values": [{"t": 12.44, "y": 0.5, "s": "24 MPa"}, {"t": 12.44, "y": 0.034, "s": "28 MPa"}]},
        "mark": {"type": "text", "align": "right", "baseline": "alphabetic", "fontSize": 18, "color": "#111111"},
        "encoding": {"x": {"field": "t", "type": "quantitative", "axis": null}, "y": {"field": "y", "type": "quantitative", "axis": null}, "text": {"field": "s"}}},
       {"data": {"values": [{"t": -1.13, "y": -0.329, "s": "1.0 ms"}]},
        "mark": {"type": "text", "align": "left", "baseline": "alphabetic", "fontSize": 18, "color": "#111111"},
        "encoding": {"x": {"field": "t", "type": "quantitative", "axis": null}, "y": {"field": "y", "type": "quantitative", "axis": null}, "text": {"field": "s"}}},
       {"data": {"values": [{"t": 13.2, "y0": -0.325, "y1": -0.105}]},
        "mark": {"type": "rule", "color": "#000000", "strokeWidth": 1.5},
        "encoding": {"x": {"field": "t", "type": "quantitative", "axis": null}, "y": {"field": "y0", "type": "quantitative", "axis": null}, "y2": {"field": "y1"}}},
       {"data": {"values": [{"t0": 12.2, "t1": 13.2, "y": -0.325}]},
        "mark": {"type": "rule", "color": "#000000", "strokeWidth": 1.5},
        "encoding": {"x": {"field": "t0", "type": "quantitative", "axis": null}, "x2": {"field": "t1"}, "y": {"field": "y", "type": "quantitative", "axis": null}}},
       {"data": {"values": [{"t": 12.9, "y": -0.415, "s": "1 ms"}]},
        "mark": {"type": "text", "align": "center", "baseline": "alphabetic", "fontSize": 10, "color": "#111111"},
        "encoding": {"x": {"field": "t", "type": "quantitative", "axis": null}, "y": {"field": "y", "type": "quantitative", "axis": null}, "text": {"field": "s"}}},
       {"data": {"values": [{"t": 14.05, "y": -0.034, "s": "0.2 mV"}]},
        "mark": {"type": "text", "align": "center", "baseline": "middle", "angle": 270, "fontSize": 10, "color": "#111111"},
        "encoding": {"x": {"field": "t", "type": "quantitative", "axis": null}, "y": {"field": "y", "type": "quantitative", "axis": null}, "text": {"field": "s"}}}
     ]}
    ]
   },
   {
    "width": 227, "height": 177,
    "resolve": {"scale": {"x": "independent", "y": "independent"}},
    "layer": [
     {"layer": [
       {"data": {"values": [{"x": 0, "y0": -0.1, "y1": 0.3}]}, "mark": {"type": "rule", "color": "#111111", "strokeWidth": 2},
        "encoding": {
          "x": {"field": "x", "type": "quantitative", "title": "Stimulus Duration [ms]", "scale": {"domain": [0, 5.2], "nice": false, "zero": false},
                "axis": {"values": [1, 2, 3, 4, 5], "offset": -43, "labelFontSize": 17, "titleFontSize": 19, "tickSize": 4, "tickWidth": 2, "domainWidth": 2, "labelPadding": 3, "titlePadding": 37}},
          "y": {"field": "y0", "type": "quantitative", "title": "CMAP Amplitude [mV]", "scale": {"domain": [-0.1, 0.3109], "nice": false, "zero": false},
                "axis": {"values": [-0.1, 0, 0.1, 0.2, 0.3], "format": ".1f", "domain": false, "labelFontSize": 17, "titleFontSize": 20, "tickSize": 4, "tickWidth": 2, "labelPadding": 3, "titlePadding": 0, "titleY": 93}},
          "y2": {"field": "y1"}}},
       {"data": {"name": "ciR"}, "mark": {"type": "line", "color": "#ff2b2b", "strokeWidth": 1.5, "strokeDash": [1.5, 2.5], "interpolate": "monotone"},
        "encoding": {"x": {"field": "x", "type": "quantitative", "title": "Stimulus Duration [ms]"}, "y": {"field": "y", "type": "quantitative", "title": "CMAP Amplitude [mV]"}, "detail": {"field": "side"}}},
       {"data": {"name": "fitR"}, "mark": {"type": "line", "color": "#000000", "strokeWidth": 2.2},
        "encoding": {"x": {"field": "x", "type": "quantitative", "title": "Stimulus Duration [ms]"}, "y": {"field": "y", "type": "quantitative", "title": "CMAP Amplitude [mV]"}}},
       {"data": {"name": "errR"}, "mark": {"type": "rule", "color": "#000000", "strokeWidth": 2.2},
        "encoding": {"x": {"field": "x", "type": "quantitative", "title": "Stimulus Duration [ms]"}, "y": {"field": "lo", "type": "quantitative", "title": "CMAP Amplitude [mV]"}, "y2": {"field": "hi"}}},
       {"data": {"name": "errR"}, "mark": {"type": "tick", "orient": "horizontal", "size": 9, "thickness": 2.2, "color": "#000000", "opacity": 1},
        "encoding": {"x": {"field": "x", "type": "quantitative", "title": "Stimulus Duration [ms]"}, "y": {"field": "lo", "type": "quantitative", "title": "CMAP Amplitude [mV]"}}},
       {"data": {"name": "errR"}, "mark": {"type": "tick", "orient": "horizontal", "size": 9, "thickness": 2.2, "color": "#000000", "opacity": 1},
        "encoding": {"x": {"field": "x", "type": "quantitative", "title": "Stimulus Duration [ms]"}, "y": {"field": "hi", "type": "quantitative", "title": "CMAP Amplitude [mV]"}}},
       {"data": {"name": "ptsR"}, "mark": {"type": "circle", "size": 50, "color": "#000000", "opacity": 1},
        "encoding": {"x": {"field": "x", "type": "quantitative", "title": "Stimulus Duration [ms]"}, "y": {"field": "m", "type": "quantitative", "title": "CMAP Amplitude [mV]"}}}
     ]},
     {"layer": [
       {"data": {"values": [{"t0": -1.56, "t1": 14.61, "y0": -0.363, "y1": 0.567}]},
        "mark": {"type": "rect", "fill": "#ffffff", "stroke": "#000000", "strokeWidth": 2},
        "encoding": {"x": {"field": "t0", "type": "quantitative", "scale": {"domain": [-4.56, 14.36], "nice": false, "zero": false}, "axis": null}, "x2": {"field": "t1"},
                     "y": {"field": "y0", "type": "quantitative", "scale": {"domain": [-2.033, -0.263], "nice": false, "zero": false}, "axis": null}, "y2": {"field": "y1"}}},
       {"data": {"name": "bandR"}, "mark": {"type": "area", "color": "#c6c6c6", "stroke": "#8c8c8c", "strokeWidth": 0.7, "interpolate": "monotone", "opacity": 1},
        "encoding": {"x": {"field": "t", "type": "quantitative", "axis": null}, "y": {"field": "lo", "type": "quantitative", "axis": null}, "y2": {"field": "hi"}, "detail": {"field": "k"}}},
       {"data": {"name": "trR"}, "mark": {"type": "line", "color": "#000000", "strokeWidth": 1.4, "interpolate": "monotone"},
        "encoding": {"x": {"field": "t", "type": "quantitative", "axis": null}, "y": {"field": "y", "type": "quantitative", "axis": null}, "detail": {"field": "k"}}},
       {"data": {"values": [{"t0": 0, "t1": 1.02, "y0": 0.16, "y1": 0.51}, {"t0": 0, "t1": 2.36, "y0": -0.166, "y1": 0.152}]},
        "mark": {"type": "rect", "color": "#a0003a"},
        "encoding": {"x": {"field": "t0", "type": "quantitative", "axis": null}, "x2": {"field": "t1"}, "y": {"field": "y0", "type": "quantitative", "axis": null}, "y2": {"field": "y1"}}},
       {"data": {"values": [{"t": 12.7, "y": 0.41, "s": "1.0 ms"}, {"t": 12.7, "y": 0.054, "s": "3.0 ms"}]},
        "mark": {"type": "text", "align": "right", "baseline": "alphabetic", "fontSize": 18, "color": "#111111"},
        "encoding": {"x": {"field": "t", "type": "quantitative", "axis": null}, "y": {"field": "y", "type": "quantitative", "axis": null}, "text": {"field": "s"}}},
       {"data": {"values": [{"t": 0.05, "y": -0.338, "s": "24 MPa"}]},
        "mark": {"type": "text", "align": "left", "baseline": "alphabetic", "fontSize": 18, "color": "#111111"},
        "encoding": {"x": {"field": "t", "type": "quantitative", "axis": null}, "y": {"field": "y", "type": "quantitative", "axis": null}, "text": {"field": "s"}}},
       {"data": {"values": [{"t": 13.47, "y0": -0.26, "y1": -0.06}]},
        "mark": {"type": "rule", "color": "#000000", "strokeWidth": 1.5},
        "encoding": {"x": {"field": "t", "type": "quantitative", "axis": null}, "y": {"field": "y0", "type": "quantitative", "axis": null}, "y2": {"field": "y1"}}},
       {"data": {"values": [{"t0": 12.63, "t1": 13.47, "y": -0.26}]},
        "mark": {"type": "rule", "color": "#000000", "strokeWidth": 1.5},
        "encoding": {"x": {"field": "t0", "type": "quantitative", "axis": null}, "x2": {"field": "t1"}, "y": {"field": "y", "type": "quantitative", "axis": null}}},
       {"data": {"values": [{"t": 13.1, "y": -0.316, "s": "1 ms"}]},
        "mark": {"type": "text", "align": "center", "baseline": "alphabetic", "fontSize": 10, "color": "#111111"},
        "encoding": {"x": {"field": "t", "type": "quantitative", "axis": null}, "y": {"field": "y", "type": "quantitative", "axis": null}, "text": {"field": "s"}}},
       {"data": {"values": [{"t": 14.17, "y": -0.053, "s": "0.2 mV"}]},
        "mark": {"type": "text", "align": "center", "baseline": "middle", "angle": 270, "fontSize": 10, "color": "#111111"},
        "encoding": {"x": {"field": "t", "type": "quantitative", "axis": null}, "y": {"field": "y", "type": "quantitative", "axis": null}, "text": {"field": "s"}}}
     ]}
    ]
   }
  ]
 }
]
}
